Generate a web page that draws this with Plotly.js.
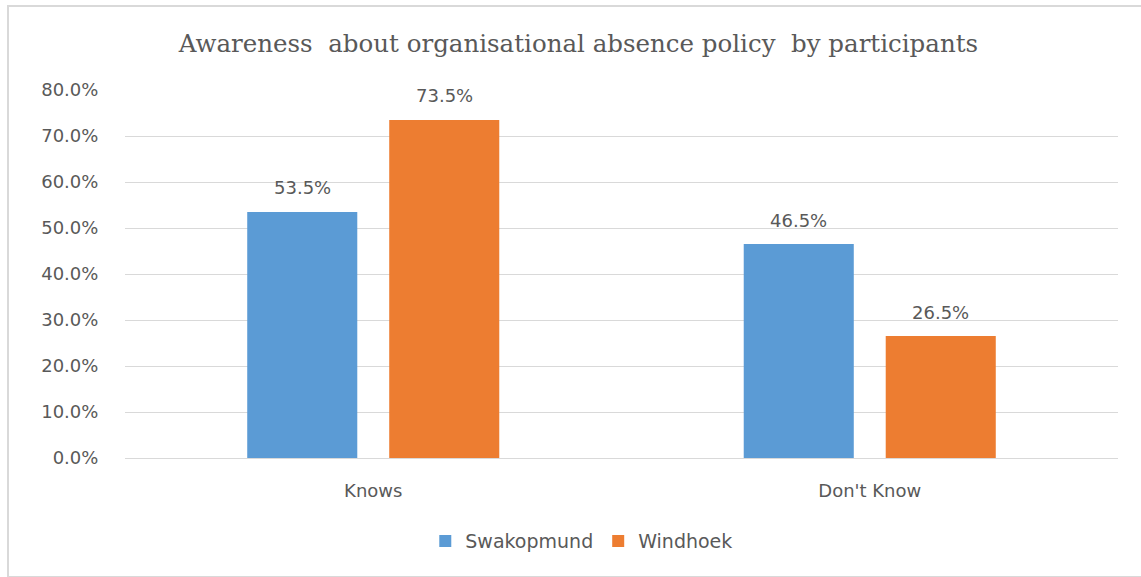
<!DOCTYPE html>
<html><head><meta charset="utf-8">
<script src="https://cdn.plot.ly/plotly-3.0.1.min.js"></script>
<style>
body{margin:0;background:#fff;}
#chart{width:1141px;height:577px;position:absolute;left:0;top:0;}
#frame{position:absolute;left:7px;top:5px;width:1140px;height:569px;border:2px solid #d9d9d9;pointer-events:none;}
</style></head>
<body>
<div id="chart"></div>
<div id="frame"></div>
<script>
const categories = ["Knows", "Don't Know"];
const swakopmund = [0.535, 0.465];
const windhoek = [0.735, 0.265];
const tickVals = [0, 0.1, 0.2, 0.3, 0.4, 0.5, 0.6, 0.7, 0.8];
const tickText = ["0.0%", "10.0%", "20.0%", "30.0%", "40.0%", "50.0%", "60.0%", "70.0%", "80.0%"];

const sans = "'DejaVu Sans', Verdana, sans-serif";
const grey = "#595959";
const fmt = v => (v * 100).toFixed(1) + "%";

const traces = [
  {type: "bar", name: "Swakopmund", x: categories, y: swakopmund, marker: {color: "#5B9BD5"}, hoverinfo: "none"},
  {type: "bar", name: "Windhoek", x: categories, y: windhoek, marker: {color: "#ED7D31"}, hoverinfo: "none"}
];

const annotations = [];
[[swakopmund, -71], [windhoek, 71]].forEach(([vals, dx]) => {
  vals.forEach((v, i) => annotations.push({
    x: categories[i], y: v, xref: "x", yref: "y", text: fmt(v), showarrow: false,
    xshift: dx, yshift: 24, font: {family: sans, size: 18, color: grey}
  }));
});

const layout = {
  width: 1141, height: 577,
  margin: {l: 125, r: 23, t: 90, b: 119},
  paper_bgcolor: "#fff", plot_bgcolor: "#fff",
  title: {text: "Awareness  about organisational absence policy  by participants",
          font: {family: "'DejaVu Serif', serif", size: 24.5, color: grey},
          x: 0.507, xanchor: "center", y: 0.925, yanchor: "middle"},
  bargap: 0.428, bargroupgap: 0.225,
  barmode: "group",
  font: {family: sans, color: grey},
  annotations: annotations,
  xaxis: {tickfont: {family: sans, size: 18, color: grey}, showline: true, linecolor: "#d9d9d9", linewidth: 1,
          ticks: "outside", ticklen: 16, tickcolor: "rgba(0,0,0,0)", showgrid: false},
  yaxis: {range: [0, 0.8], tickvals: tickVals, ticktext: tickText, tickfont: {family: sans, size: 18, color: grey},
          gridcolor: "#d9d9d9", gridwidth: 1, zeroline: false,
          ticks: "outside", ticklen: 22, tickcolor: "rgba(0,0,0,0)"},
  legend: {orientation: "h", x: 0.46, xanchor: "center", y: -0.226, yanchor: "middle",
           font: {family: sans, size: 19, color: grey}, itemwidth: 30, tracegroupgap: 0},
  showlegend: true
};

Plotly.newPlot("chart", traces, layout, {displayModeBar: false, staticPlot: true});
</script>
</body></html>
